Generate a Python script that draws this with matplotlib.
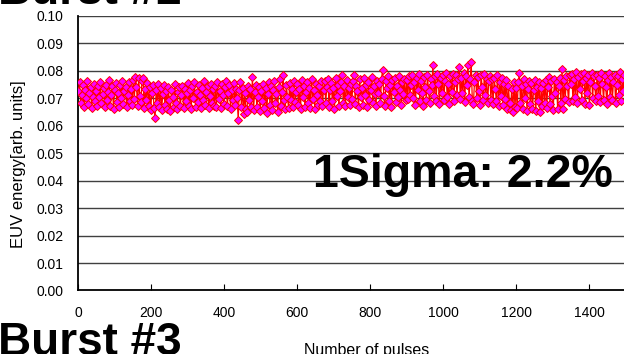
import matplotlib
matplotlib.use("Agg")
import matplotlib.pyplot as plt
import numpy as np

plt.rcParams['font.family'] = ['Liberation Sans', 'DejaVu Sans']

# EUV energy per pulse (units of 1e-4), one value every 3 pulses
pulse_step = 3
energy_e4 = [
    725, 758, 684, 712, 747, 668, 731, 699, 762, 677, 719, 741, 664, 706, 752, 689, 727, 671, 744, 703, 760, 681, 716, 738, 666,
    749, 694, 722, 765, 673, 710, 743, 662, 731, 756, 686, 718, 669, 748, 701, 763, 679, 726, 741, 667, 712, 759, 690, 735, 674,
    766, 698, 778, 742, 671, 772, 709, 686, 761, 775, 665, 733, 692, 754, 672, 740, 658, 719, 747, 663, 627, 728, 681, 750, 668,
    737, 657, 714, 748, 675, 726, 661, 742, 693, 654, 731, 704, 668, 751, 683, 660, 722, 739, 671, 710, 745, 664, 733, 689, 719,
    755, 671, 728, 662, 743, 700, 758, 668, 722, 687, 749, 713, 665, 737, 694, 761, 676, 724, 746, 663, 709, 752, 684, 733, 670,
    744, 666, 758, 697, 726, 663, 750, 711, 679, 739, 764, 672, 718, 747, 660, 731, 692, 756, 675, 735, 702, 621, 729, 757, 668,
    738, 642, 719, 661, 648, 746, 694, 733, 666, 776, 657, 721, 749, 668, 703, 742, 655, 727, 689, 751, 664, 738, 645, 716, 759,
    676, 743, 657, 728, 762, 683, 715, 650, 739, 768, 671, 722, 785, 694, 659, 748, 706, 664, 755, 692, 733, 669, 761, 687, 724,
    753, 674, 732, 661, 766, 705, 744, 668, 721, 759, 683, 737, 665, 770, 698, 729, 660, 752, 711, 676, 746, 689, 763, 672, 731,
    764, 681, 742, 771, 668, 729, 756, 690, 737, 662, 775, 707, 748, 673, 726, 759, 785, 684, 743, 670, 767, 703, 736, 676, 752,
    698, 761, 785, 679, 744, 727, 666, 769, 705, 738, 674, 773, 713, 749, 668, 757, 692, 731, 776, 683, 746, 714, 671, 764, 720,
    752, 684, 770, 803, 709, 673, 761, 736, 779, 690, 748, 668, 767, 721, 774, 686, 744, 703, 781, 728, 675, 759, 714, 770, 692,
    766, 697, 780, 712, 749, 784, 701, 758, 676, 773, 730, 787, 689, 761, 719, 672, 776, 742, 694, 783, 725, 681, 768, 747, 821,
    708, 779, 691, 789, 752, 680, 772, 717, 785, 695, 763, 791, 706, 750, 678, 781, 724, 788, 688, 757, 784, 713, 769, 815, 697,
    774, 719, 792, 686, 781, 748, 821, 703, 770, 831, 690, 680, 759, 786, 699, 777, 726, 676, 783, 741, 693, 789, 712, 771, 684,
    762, 781, 695, 769, 678, 775, 733, 689, 784, 671, 757, 708, 773, 674, 751, 697, 767, 662, 744, 683, 657, 735, 648, 759, 668,
    738, 664, 757, 791, 682, 746, 659, 768, 701, 752, 655, 733, 763, 677, 754, 661, 729, 767, 653, 741, 689, 760, 650, 737, 672,
    756, 683, 767, 665, 742, 776, 679, 761, 709, 657, 771, 718, 758, 662, 745, 774, 681, 807, 660, 766, 698, 779, 743, 686, 784,
    752, 789, 691, 771, 706, 794, 684, 778, 733, 787, 695, 762, 791, 680, 774, 718, 785, 676, 759, 792, 701, 780, 744, 688, 786,
    709, 775, 686, 793, 751, 692, 782, 739, 677, 766, 790, 703, 777, 694, 758, 786, 681, 749, 779, 712, 794, 690, 768, 727, 783,
]
energy = np.array(energy_e4) / 10000.0
pulses = np.arange(len(energy)) * pulse_step

y_ticks = [0.00, 0.01, 0.02, 0.03, 0.04, 0.05, 0.06, 0.07, 0.08, 0.09, 0.10]
x_ticks = [0, 200, 400, 600, 800, 1000, 1200, 1400]

fig = plt.figure(figsize=(6.24, 3.54), dpi=100)
ax = fig.add_axes([0.1258, 0.1794, 0.8742, 0.7762])

for yt in y_ticks[1:]:
    ax.axhline(yt, color='#404040', lw=1.0, zorder=1)

ax.plot(pulses, energy, color='#ff0000', lw=0.9, marker='D', markersize=4.4,
        markerfacecolor='#ff00ff', markeredgecolor='#ff0000', markeredgewidth=0.7, zorder=3)

ax.set_xlim(0, 1496)
ax.set_ylim(0, 0.10)
ax.set_yticks(y_ticks)
ax.set_yticklabels([f"{v:.2f}" for v in y_ticks])
ax.set_xticks(x_ticks)
ax.tick_params(axis='y', length=0, pad=11, labelsize=10)
ax.tick_params(axis='x', direction='in', length=4, width=0.8, pad=11, labelsize=10)
for s in ['top', 'right']:
    ax.spines[s].set_visible(False)
ax.spines['left'].set_linewidth(1.3)
ax.spines['bottom'].set_linewidth(1.3)

fig.text(0.030, 0.537, "EUV energy[arb. units]", rotation=90, ha='center', va='center', fontsize=12)
fig.text(367 / 624, 0.031, "Number of pulses", ha='center', va='top', fontsize=11.5)
fig.text(313 / 624, 0.473, "1Sigma: 2.2%", ha='left', va='baseline', fontsize=33.5, fontweight='bold')
fig.text(-0.003, 0.99, "Burst #2", ha='left', va='baseline', fontsize=33, fontweight='bold')
fig.text(-0.003, -0.003, "Burst #3", ha='left', va='baseline', fontsize=33, fontweight='bold')

fig.savefig("out.png", dpi=100)
